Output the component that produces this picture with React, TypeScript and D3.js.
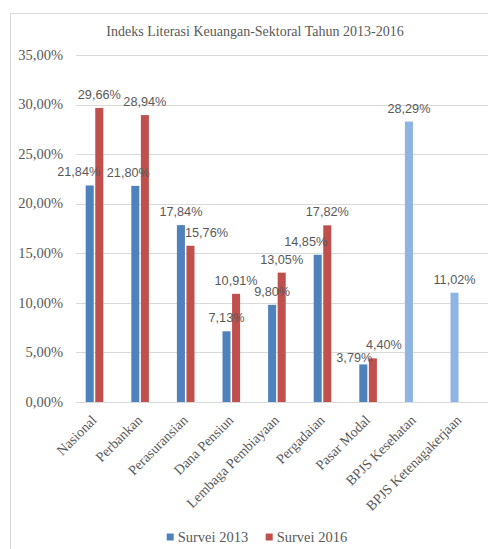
import React from "react";
import * as d3 from "d3";

const title = "Indeks Literasi Keuangan-Sektoral Tahun 2013-2016";
const categories = [
  "Nasional",
  "Perbankan",
  "Perasuransian",
  "Dana Pensiun",
  "Lembaga Pembiayaan",
  "Pergadaian",
  "Pasar Modal",
  "BPJS Kesehatan",
  "BPJS Ketenagakerjaan",
];
const seriesNames = ["Survei 2013", "Survei 2016"];
const survei2013 = [0.2184, 0.218, 0.1784, 0.0713, 0.098, 0.1485, 0.0379, 0.2829, 0.1102];
const survei2016: (number | null)[] = [0.2966, 0.2894, 0.1576, 0.1091, 0.1305, 0.1782, 0.044, null, null];
const yTicks = [0, 0.05, 0.1, 0.15, 0.2, 0.25, 0.3, 0.35];
const lightCategories = ["BPJS Kesehatan", "BPJS Ketenagakerjaan"];

// label nudges (collision adjustments like Excel), [series][category] -> [dx, dy]
const labelNudge: Record<string, [number, number]> = {
  "0-0": [-11, 0],
  "0-1": [-7, 0],
  "1-2": [16, 0],
  "0-5": [-12, 0],
  "0-6": [-9, 7],
  "1-6": [11, 0],
};

const COLORS = ["#4F81BD", "#C0504D"];
const LIGHT = "#8DB4E2";
const GRID = "#D9D9D9";
const TEXT = "#595959";
const SERIF = "'Liberation Serif', 'Times New Roman', serif";
const SANS = "'Liberation Sans', Arial, sans-serif";

const fmt = (v: number) => (v * 100).toFixed(2).replace(".", ",") + "%";

export default function App() {
  const W = 488;
  const H = 549;
  const y = d3.scaleLinear().domain([0, 0.35]).range([402, 55]);
  const x = d3.scaleBand<string>().domain(categories).range([71.7, 482.1]).paddingInner(0).paddingOuter(0);
  const xs = d3.scaleBand<string>().domain(seriesNames).range([-8.8, 8.8]).paddingInner(0.16).paddingOuter(0);
  const allSeries = [survei2013, survei2016];
  const gridX0 = 76;
  const gridX1 = 488;

  const points: { si: number; ci: number; v: number; cx: number; fill: string }[] = [];
  allSeries.forEach((vals, si) =>
    vals.forEach((v, ci) => {
      if (v == null) return;
      const cat = categories[ci];
      const cx = x(cat)! + x.bandwidth() / 2 + xs(seriesNames[si])!;
      const fill = si === 0 && lightCategories.includes(cat) ? LIGHT : COLORS[si];
      points.push({ si, ci, v, cx, fill });
    })
  );

  return (
    <svg
      width={W}
      height={H}
      style={{ position: "absolute", left: 0, top: 0, background: "#fff" }}
    >
      <rect x={10.5} y={13.5} width={W + 10} height={H + 10} fill="#fff" stroke={GRID} />
      <text x={255} y={36} textAnchor="middle" fontFamily={SERIF} fontSize={14} fill={TEXT}>
        {title}
      </text>
      {yTicks.map((t) => (
        <g key={t}>
          <line x1={gridX0} x2={gridX1} y1={Math.round(y(t)) + 0.5} y2={Math.round(y(t)) + 0.5} stroke={GRID} />
          <text
            x={63}
            y={y(t)}
            dy="0.33em"
            textAnchor="end"
            fontFamily={SERIF}
            fontSize={14.5}
            fill={TEXT}
          >
            {fmt(t)}
          </text>
        </g>
      ))}
      {points.map((p) => (
        <rect
          key={`b${p.si}-${p.ci}`}
          x={p.cx}
          y={y(p.v)}
          width={xs.bandwidth()}
          height={y(0) - y(p.v)}
          fill={p.fill}
        />
      ))}
      {points.map((p) => {
        const nudge = labelNudge[`${p.si}-${p.ci}`] || [0, 0];
        return (
          <text
            key={`l${p.si}-${p.ci}`}
            x={p.cx + xs.bandwidth() / 2 + nudge[0]}
            y={y(p.v) - 9 + nudge[1]}
            textAnchor="middle"
            fontFamily={SANS}
            fontSize={12.7}
            fill={TEXT}
          >
            {fmt(p.v)}
          </text>
        );
      })}
      {categories.map((c) => {
        const ax = x(c)! + x.bandwidth() / 2 + 3;
        const ay = 421;
        return (
          <text
            key={c}
            x={ax}
            y={ay}
            textAnchor="end"
            transform={`rotate(-45 ${ax} ${ay})`}
            fontFamily={SERIF}
            fontSize={14}
            fill={TEXT}
          >
            {c}
          </text>
        );
      })}
      {seriesNames.map((s, i) => {
        const lx = [166.7, 265.7][i];
        return (
          <g key={s}>
            <rect x={lx} y={533.5} width={7} height={7} fill={COLORS[i]} />
            <text x={lx + 11} y={541.5} fontFamily={SERIF} fontSize={14.5} fill={TEXT}>
              {s}
            </text>
          </g>
        );
      })}
    </svg>
  );
}
